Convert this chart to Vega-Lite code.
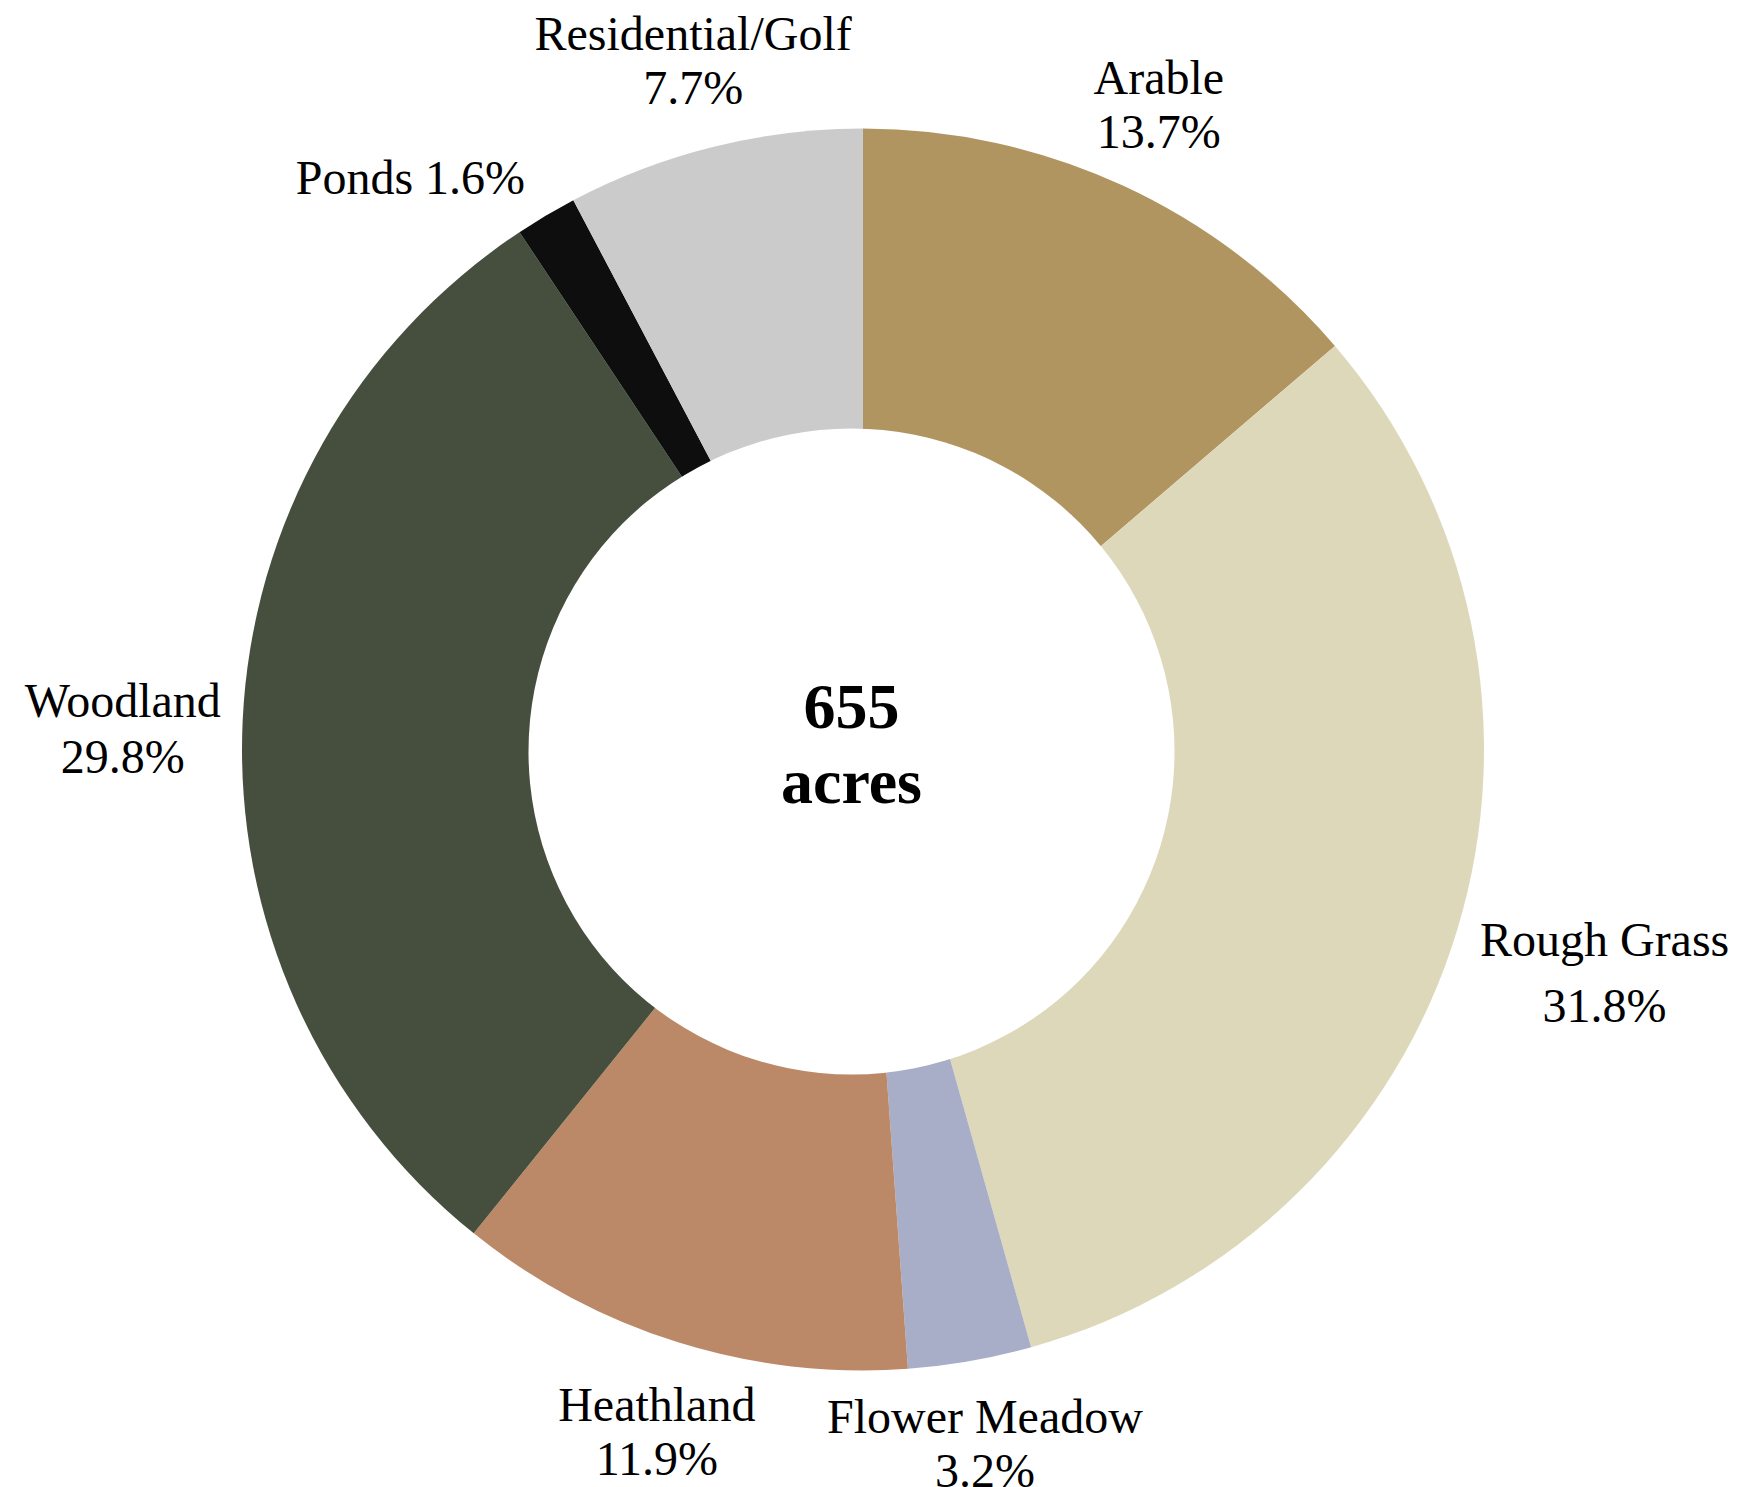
{
  "$schema": "https://vega.github.io/schema/vega-lite/v6.json",
  "autosize": "none",
  "width": 1726,
  "height": 1475,
  "padding": {"left": 0, "top": 12, "right": 16, "bottom": 0},
  "background": "white",
  "config": {"view": {"stroke": null}, "text": {"font": "Liberation Serif"}},
  "datasets": {
    "segments": [
      {"category": "Arable", "share": 13.7, "label": "Arable\n13.7%", "order": 1},
      {"category": "Rough Grass", "share": 31.8, "label": "Rough Grass\n31.8%", "order": 2},
      {"category": "Flower Meadow", "share": 3.2, "label": "Flower Meadow\n3.2%", "order": 3},
      {"category": "Heathland", "share": 11.9, "label": "Heathland\n11.9%", "order": 4},
      {"category": "Woodland", "share": 29.8, "label": "Woodland\n29.8%", "order": 5},
      {"category": "Ponds", "share": 1.6, "label": "Ponds 1.6%", "order": 6},
      {"category": "Residential/Golf", "share": 7.7, "label": "Residential/Golf\n7.7%", "order": 7}
    ],
    "centre": [{"total": "655\nacres"}]
  },
  "layer": [
    {
      "data": {"name": "segments"},
      "mark": {"type": "arc", "outerRadius": 621, "innerRadius": 0},
      "encoding": {
        "theta": {"field": "share", "type": "quantitative", "stack": true},
        "order": {"field": "order", "type": "quantitative"},
        "color": {
          "field": "category", "type": "nominal", "legend": null,
          "scale": {
            "domain": ["Arable", "Rough Grass", "Flower Meadow", "Heathland", "Woodland", "Ponds", "Residential/Golf"],
            "range": ["#B09560", "#DED8BA", "#A8ADC8", "#BC8968", "#464E3D", "#0E0E0E", "#CBCBCB"]
          }
        }
      }
    },
    {
      "data": {"name": "centre"},
      "mark": {"type": "arc", "radius": 323, "theta": 0, "theta2": 6.2832, "fill": "white", "xOffset": -11.5, "yOffset": 2},
      "encoding": {}
    },
    {
      "data": {"name": "centre"},
      "mark": {"type": "text", "fontSize": 64, "fontWeight": "bold", "lineHeight": 75, "lineBreak": "\n", "align": "center", "baseline": "alphabetic", "xOffset": -11.5, "yOffset": -21.5, "color": "#000000"},
      "encoding": {"text": {"field": "total"}}
    },
    {
      "data": {"name": "segments"},
      "mark": {"type": "text", "radius": 707, "fontSize": 48, "lineHeight": 54, "lineBreak": "\n", "align": "center", "baseline": "middle", "yOffset": -27, "color": "#000000"},
      "encoding": {
        "theta": {"field": "share", "type": "quantitative", "stack": true},
        "order": {"field": "order", "type": "quantitative"},
        "text": {"condition": {"test": "indexof(['Arable','Flower Meadow','Residential/Golf'], datum.category) >= 0", "field": "label"}, "value": ""}
      }
    },
    {
      "data": {"name": "segments"},
      "mark": {"type": "text", "radius": 709, "fontSize": 48, "lineHeight": 54, "lineBreak": "\n", "align": "center", "baseline": "middle", "yOffset": -19, "xOffset": 5, "color": "#000000"},
      "encoding": {
        "theta": {"field": "share", "type": "quantitative", "stack": true},
        "order": {"field": "order", "type": "quantitative"},
        "text": {"condition": {"test": "datum.category == 'Heathland'", "field": "label"}, "value": ""}
      }
    },
    {
      "data": {"name": "segments"},
      "mark": {"type": "text", "radius": 775, "fontSize": 48, "lineHeight": 66, "lineBreak": "\n", "align": "center", "baseline": "middle", "yOffset": -33, "color": "#000000"},
      "encoding": {
        "theta": {"field": "share", "type": "quantitative", "stack": true},
        "order": {"field": "order", "type": "quantitative"},
        "text": {"condition": {"test": "datum.category == 'Rough Grass'", "field": "label"}, "value": ""}
      }
    },
    {
      "data": {"name": "segments"},
      "mark": {"type": "text", "radius": 741, "fontSize": 48, "lineHeight": 56, "lineBreak": "\n", "align": "center", "baseline": "middle", "yOffset": -13, "color": "#000000"},
      "encoding": {
        "theta": {"field": "share", "type": "quantitative", "stack": true},
        "order": {"field": "order", "type": "quantitative"},
        "text": {"condition": {"test": "datum.category == 'Woodland'", "field": "label"}, "value": ""}
      }
    },
    {
      "data": {"name": "segments"},
      "mark": {"type": "text", "radius": 662, "fontSize": 48, "lineBreak": "\n", "align": "right", "baseline": "middle", "color": "#000000"},
      "encoding": {
        "theta": {"field": "share", "type": "quantitative", "stack": true},
        "order": {"field": "order", "type": "quantitative"},
        "text": {"condition": {"test": "datum.category == 'Ponds'", "field": "label"}, "value": ""}
      }
    }
  ]
}
